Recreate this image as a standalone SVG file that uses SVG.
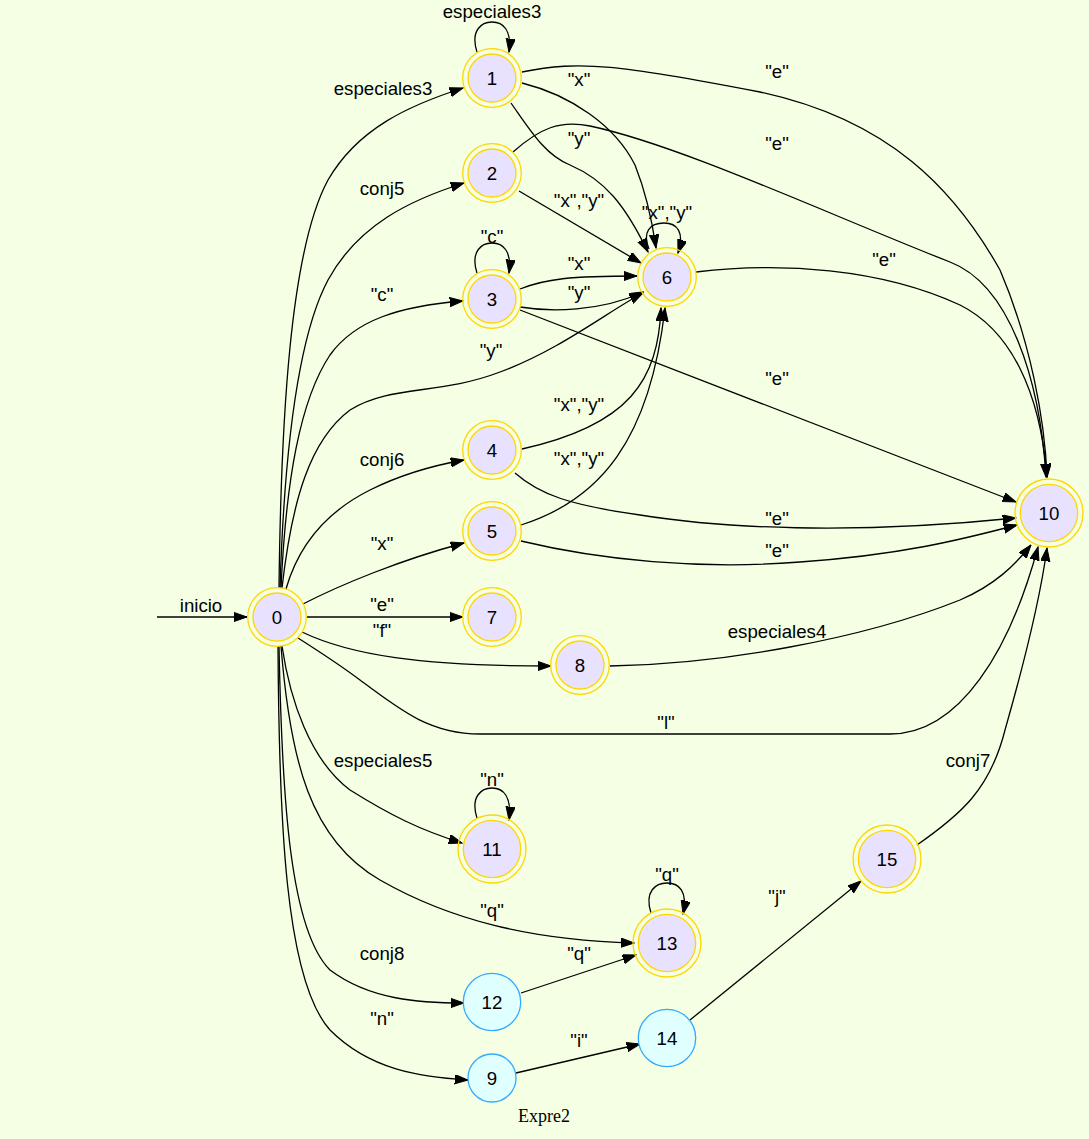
<svg xmlns="http://www.w3.org/2000/svg" width="1089" height="1139" viewBox="0 0 1089 1139">
<style>
.e{fill:none;stroke:#000;stroke-width:1.3;marker-end:url(#arr)}
.t{font-family:"Liberation Sans",Arial,sans-serif;font-size:18.67px;fill:#000;text-anchor:middle}
.acc{fill:#E8E2FF;stroke:#FFD700;stroke-width:1.3}
.acc2{fill:none;stroke:#FFD700;stroke-width:1.3}
.st{fill:#E0FFFF;stroke:#33AAFF;stroke-width:1.3}
</style>
<defs>
<marker id="arr" markerUnits="userSpaceOnUse" markerWidth="14" markerHeight="10" refX="13.3" refY="4.65" orient="auto">
<path d="M0,0 L13.3,4.65 L0,9.3 z" fill="#000" stroke="#000" stroke-width="1"/>
</marker>
</defs>
<rect x="0" y="0" width="1089" height="1139" fill="#F5FFE3"/>
<g id="connectors">
<path class="e" d="M157,617 L247,617"/><text class="t" x="201" y="612">inicio</text>
<path class="e" d="M279,588 C281,420 290,250 328,180 C358,128 410,105 463,88"/><text class="t" x="383" y="95">especiales3</text>
<path class="e" d="M280,588 C284,460 296,340 328,280 C358,225 410,200 464,183"/><text class="t" x="382" y="195">conj5</text>
<path class="e" d="M281,588 C286,480 300,400 330,355 C355,320 400,306 463,301"/><text class="t" x="382" y="301">"c"</text>
<path class="e" d="M282,588 C292,500 310,440 350,410 C390,385 440,395 500,372 C560,350 610,310 643,293"/><text class="t" x="491" y="357">"y"</text>
<path class="e" d="M286,589 C300,540 330,510 370,490 C400,475 430,466 464,460"/><text class="t" x="382" y="466">conj6</text>
<path class="e" d="M303,604 C340,585 400,560 464,543"/><text class="t" x="382" y="550">"x"</text>
<path class="e" d="M307,617 L463,617"/><text class="t" x="382" y="611">"e"</text>
<path class="e" d="M302,632 C350,655 420,666 551,666"/><text class="t" x="382" y="637">"f"</text>
<path class="e" d="M298,638 C320,652 340,665 360,680 C400,710 430,734 480,734 L890,734 C960,734 1010,650 1038,547"/><text class="t" x="666" y="729">"l"</text>
<path class="e" d="M282,646 C290,700 310,760 350,790 C390,815 420,830 462,843"/><text class="t" x="383" y="767">especiales5</text>
<path class="e" d="M281,646 C290,760 310,840 380,880 C450,920 530,940 634,943"/><text class="t" x="492" y="917">"q"</text>
<path class="e" d="M279,646 C282,800 290,930 330,970 C370,1000 420,1003 464,1003"/><text class="t" x="382" y="960">conj8</text>
<path class="e" d="M278,646 C279,820 285,980 330,1030 C370,1070 420,1077 468,1080"/><text class="t" x="382" y="1025">"n"</text>
<path class="e" d="M477,52 C470,30 482,22 492,22 C503,22 512,30 509,52"/><text class="t" x="492" y="18">especiales3</text>
<path class="e" d="M522,72 C580,60 620,65 760,92 C890,120 955,190 1000,270 C1030,340 1045,420 1047,477"/><text class="t" x="777" y="78">"e"</text>
<path class="e" d="M522,83 C570,95 615,125 635,165 C645,190 652,220 656,248"/><text class="t" x="579" y="86">"x"</text>
<path class="e" d="M511,103 C530,130 545,155 570,165 C605,180 625,205 648,252"/><text class="t" x="579" y="145">"y"</text>
<path class="e" d="M513,152 C540,128 560,120 590,126 C680,145 830,215 950,262 C1010,285 1040,380 1046,477"/><text class="t" x="777" y="150">"e"</text>
<path class="e" d="M519,191 L641,263"/><text class="t" x="579" y="207">"x","y"</text>
<path class="e" d="M649,249 C642,232 650,223 664,223 C677,223 685,232 678,253"/><text class="t" x="667" y="219">"x","y"</text>
<path class="e" d="M477,273 C470,251 482,243 492,243 C503,243 512,251 509,273"/><text class="t" x="492" y="243">"c"</text>
<path class="e" d="M520,289 C545,279 570,276 637,276"/><text class="t" x="579" y="270">"x"</text>
<path class="e" d="M520,307 C550,312 600,312 643,292"/><text class="t" x="579" y="299">"y"</text>
<path class="e" d="M520,310 L1016,502"/><text class="t" x="777" y="385">"e"</text>
<path class="e" d="M696,272 C780,262 880,268 960,305 C1010,330 1040,390 1047,477"/><text class="t" x="884" y="266">"e"</text>
<path class="e" d="M522,449 C630,425 658,380 661,308"/><text class="t" x="579" y="411">"x","y"</text>
<path class="e" d="M521,525 C600,500 650,440 665,308"/><text class="t" x="579" y="465">"x","y"</text>
<path class="e" d="M515,473 C540,495 570,505 640,515 C720,528 850,535 1016,518"/><text class="t" x="777" y="525">"e"</text>
<path class="e" d="M521,541 C600,560 700,570 800,562 C900,555 960,540 1017,525"/><text class="t" x="777" y="557">"e"</text>
<path class="e" d="M610,666 C720,664 860,640 960,600 C995,585 1015,565 1031,545"/><text class="t" x="777" y="638">especiales4</text>
<path class="e" d="M477,818 C470,796 482,788 492,788 C503,788 512,796 509,820"/><text class="t" x="492" y="786">"n"</text>
<path class="e" d="M651,913 C644,891 656,883 667,883 C679,883 688,891 683,914"/><text class="t" x="667" y="881">"q"</text>
<path class="e" d="M521,993 L636,955"/><text class="t" x="579" y="960">"q"</text>
<path class="e" d="M516,1073 L640,1044"/><text class="t" x="579" y="1047">"i"</text>
<path class="e" d="M690,1020 L861,881"/><text class="t" x="777" y="903">"j"</text>
<path class="e" d="M917,845 C960,815 990,790 1005,730 C1025,660 1040,600 1047,548"/><text class="t" x="968" y="767">conj7</text>
</g>
<g id="node0"><circle class="acc" cx="277" cy="617" r="24"/><circle class="acc2" cx="277" cy="617" r="29.3"/><text class="t" x="277" y="623.5">0</text></g>
<g id="node1"><circle class="acc" cx="492" cy="78" r="24"/><circle class="acc2" cx="492" cy="78" r="29.3"/><text class="t" x="492" y="84.5">1</text></g>
<g id="node2"><circle class="acc" cx="492" cy="173" r="24"/><circle class="acc2" cx="492" cy="173" r="29.3"/><text class="t" x="492" y="179.5">2</text></g>
<g id="node3"><circle class="acc" cx="492" cy="299" r="24"/><circle class="acc2" cx="492" cy="299" r="29.3"/><text class="t" x="492" y="305.5">3</text></g>
<g id="node4"><circle class="acc" cx="492" cy="450" r="24"/><circle class="acc2" cx="492" cy="450" r="29.3"/><text class="t" x="492" y="456.5">4</text></g>
<g id="node5"><circle class="acc" cx="492" cy="531" r="24"/><circle class="acc2" cx="492" cy="531" r="29.3"/><text class="t" x="492" y="537.5">5</text></g>
<g id="node6"><circle class="acc" cx="667" cy="277" r="24"/><circle class="acc2" cx="667" cy="277" r="29.3"/><text class="t" x="667" y="283.5">6</text></g>
<g id="node7"><circle class="acc" cx="492" cy="617" r="24"/><circle class="acc2" cx="492" cy="617" r="29.3"/><text class="t" x="492" y="623.5">7</text></g>
<g id="node8"><circle class="acc" cx="580" cy="665" r="24"/><circle class="acc2" cx="580" cy="665" r="29.3"/><text class="t" x="580" y="671.5">8</text></g>
<g id="node10"><circle class="acc" cx="1049" cy="513" r="28.7"/><circle class="acc2" cx="1049" cy="513" r="34"/><text class="t" x="1049" y="519.5">10</text></g>
<g id="node11"><circle class="acc" cx="492" cy="849" r="28.7"/><circle class="acc2" cx="492" cy="849" r="34"/><text class="t" x="492" y="855.5">11</text></g>
<g id="node13"><circle class="acc" cx="667" cy="943" r="28.7"/><circle class="acc2" cx="667" cy="943" r="34"/><text class="t" x="667" y="949.5">13</text></g>
<g id="node15"><circle class="acc" cx="887" cy="859" r="28.7"/><circle class="acc2" cx="887" cy="859" r="34"/><text class="t" x="887" y="865.5">15</text></g>
<g id="node12"><circle class="st" cx="492" cy="1002" r="28.7"/><text class="t" x="492" y="1008.5">12</text></g>
<g id="node14"><circle class="st" cx="667" cy="1038" r="28.7"/><text class="t" x="667" y="1044.5">14</text></g>
<g id="node9"><circle class="st" cx="492" cy="1078" r="24"/><text class="t" x="492" y="1084.5">9</text></g>
<text x="544" y="1122" font-family="'Liberation Serif','Times New Roman',serif" font-size="18" text-anchor="middle">Expre2</text>
</svg>
